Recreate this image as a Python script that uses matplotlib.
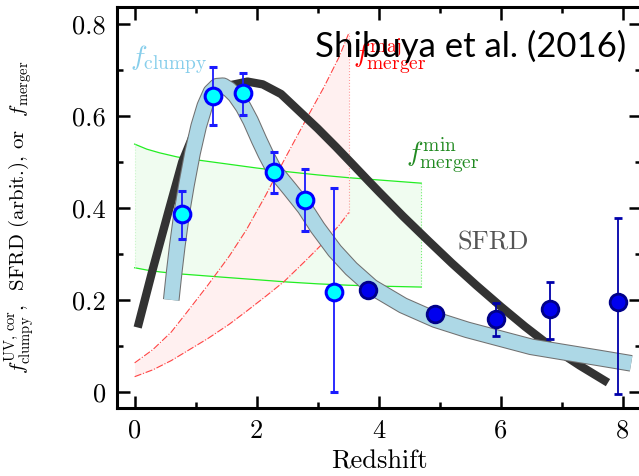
import numpy as np
import matplotlib
matplotlib.use("Agg")
import matplotlib.pyplot as plt
import matplotlib.patheffects as pe
from matplotlib.ticker import MultipleLocator, FuncFormatter

plt.rcParams['font.family'] = 'cmr10'
plt.rcParams['mathtext.fontset'] = 'cm'
plt.rcParams['axes.unicode_minus'] = False

# f_clumpy data (this work)
z_cyan = [0.77, 1.29, 1.78, 2.29, 2.79, 3.27]
f_cyan = [0.387, 0.643, 0.650, 0.478, 0.417, 0.217]
err_cyan_lo = [0.054, 0.063, 0.048, 0.046, 0.067, 0.217]
err_cyan_hi = [0.050, 0.064, 0.044, 0.044, 0.068, 0.227]

z_blue = [3.82, 4.92, 5.92, 6.81, 7.93]
f_blue = [0.222, 0.170, 0.159, 0.180, 0.196]
err_blue_lo = [0.0, 0.0, 0.037, 0.065, 0.200]
err_blue_hi = [0.0, 0.0, 0.034, 0.059, 0.182]

# fitted f_clumpy band
z_fit = [0.60, 0.65, 0.70, 0.77, 0.85, 0.95, 1.05, 1.15, 1.25, 1.35, 1.45, 1.55, 1.65, 1.78,
         1.90, 2.04, 2.15, 2.29, 2.55, 2.79, 3.00, 3.28, 3.55, 3.89, 4.40, 4.93, 5.45, 5.96,
         6.50, 7.00, 7.60, 8.14]
f_fit = [0.200, 0.262, 0.318, 0.387, 0.450, 0.520, 0.578, 0.622, 0.652, 0.665, 0.666, 0.658,
         0.645, 0.620, 0.590, 0.548, 0.517, 0.482, 0.440, 0.400, 0.357, 0.307, 0.268, 0.228,
         0.188, 0.157, 0.135, 0.117, 0.098, 0.087, 0.074, 0.062]

# SFRD (arbitrary)
z_sfrd = [0.05, 0.30, 0.55, 0.78, 1.00, 1.20, 1.40, 1.60, 1.85, 2.10, 2.40, 2.80, 3.00, 3.30,
          3.56, 3.84, 4.00, 4.40, 4.82, 5.20, 5.60, 6.00, 6.40, 6.83, 7.30, 7.76]
sfrd = [0.140, 0.268, 0.390, 0.500, 0.572, 0.622, 0.653, 0.668, 0.675, 0.669, 0.648, 0.598,
        0.573, 0.533, 0.497, 0.458, 0.436, 0.382, 0.328, 0.280, 0.232, 0.186, 0.142, 0.098,
        0.057, 0.020]

# major merger fraction range
z_maj = [0.0, 0.30, 0.60, 0.85, 1.20, 1.55, 1.83, 2.15, 2.45, 2.80, 3.10, 3.35, 3.51]
maj_hi = [0.063, 0.092, 0.130, 0.172, 0.232, 0.295, 0.352, 0.428, 0.504, 0.590, 0.662, 0.728, 0.780]
maj_lo = [0.033, 0.048, 0.068, 0.088, 0.116, 0.147, 0.175, 0.208, 0.240, 0.285, 0.325, 0.362, 0.390]

# minor merger fraction range
z_min = [0.0, 0.20, 0.41, 0.70, 1.00, 1.39, 2.00, 2.50, 3.00, 3.50, 4.00, 4.70]
min_hi = [0.539, 0.528, 0.520, 0.511, 0.505, 0.498, 0.487, 0.479, 0.472, 0.466, 0.461, 0.454]
min_lo = [0.270, 0.265, 0.261, 0.257, 0.254, 0.250, 0.244, 0.239, 0.235, 0.232, 0.230, 0.228]

fig = plt.figure(figsize=(6.39, 4.76), dpi=100)
ax = fig.add_axes([0.183, 0.143, 0.82, 0.842])

# merger shaded regions
ax.fill_between(z_min, min_lo, min_hi, color='#f0fcf0', lw=0, zorder=1)
ax.plot(z_min, min_hi, color='#22ee22', lw=0.9, zorder=2)
ax.plot(z_min, min_lo, color='#22ee22', lw=0.9, zorder=2)
ax.plot([z_min[-1], z_min[-1]], [min_lo[-1], min_hi[-1]], color='#77ee77', lw=0.8, ls=':', zorder=2)
ax.plot([z_min[0], z_min[0]], [min_lo[0], min_hi[0]], color='#ccf5cc', lw=0.8, ls=':', zorder=2)

ax.fill_between(z_maj, maj_lo, maj_hi, color='#fff0f0', lw=0, zorder=1)
ax.plot(z_maj, maj_hi, color='#ff4444', lw=0.8, ls='-.', zorder=2)
ax.plot(z_maj, maj_lo, color='#ff4444', lw=0.8, ls='-.', zorder=2)
ax.plot([z_maj[-1], z_maj[-1]], [maj_lo[-1], maj_hi[-1]], color='#ff9999', lw=0.8, ls=':', zorder=2)

# SFRD
ax.plot(z_sfrd, sfrd, color='#333333', lw=6, solid_capstyle='butt', solid_joinstyle='round', zorder=3)

# f_clumpy band
ax.plot(z_fit, f_fit, color='#add8e6', lw=10.5, solid_capstyle='butt', solid_joinstyle='round', zorder=4,
        path_effects=[pe.Stroke(linewidth=12, foreground='#707070'), pe.Normal()])

# data points
ax.errorbar(z_cyan, f_cyan, yerr=[err_cyan_lo, err_cyan_hi], fmt='o', ms=12,
            mfc='#00ffff', mec='#0000ff', mew=2.2, ecolor='#1a1aff', elinewidth=1.3,
            capsize=3, capthick=1.3, zorder=6)
ax.errorbar(z_blue, f_blue, yerr=[err_blue_lo, err_blue_hi], fmt='o', ms=12,
            mfc='#0000ee', mec='#000088', mew=2, ecolor='#0000aa', elinewidth=1.3,
            capsize=3, capthick=1.3, zorder=6)

# labels inside plot
ax.text(-0.08, 0.71, r'$f_{\rm clumpy}$', color='#87ceeb', fontsize=20, zorder=7)
ax.text(3.58, 0.715, r'$f^{\rm maj}_{\rm merger}$', color='#ff0000', fontsize=20, zorder=7)
ax.text(4.45, 0.5, r'$f^{\rm min}_{\rm merger}$', color='#228b22', fontsize=20, zorder=7)
ax.text(5.3, 0.31, 'SFRD', color='#555555', fontsize=19, zorder=7)
ax.text(8.06, 0.728, 'Shibuya et al. (2016)', color='black', fontsize=25,
        family='Lato', ha='right', zorder=8)

ax.set_xlim(-0.29, 8.3)
ax.set_ylim(-0.035, 0.837)
ax.xaxis.set_major_locator(MultipleLocator(2))
ax.xaxis.set_minor_locator(MultipleLocator(1))
ax.yaxis.set_major_locator(MultipleLocator(0.2))
ax.yaxis.set_minor_locator(MultipleLocator(0.1))
ax.xaxis.set_major_formatter(FuncFormatter(lambda v, p: '%g' % v))
ax.yaxis.set_major_formatter(FuncFormatter(lambda v, p: '%g' % v))
ax.tick_params(which='both', direction='in', top=True, right=True, labelsize=19, width=1.8)
ax.tick_params(which='major', length=9, pad=8)
ax.tick_params(which='minor', length=4)
for s in ax.spines.values():
    s.set_linewidth(2.2)

ax.set_xlabel('Redshift', fontsize=19, labelpad=5)
ax.set_ylabel(r'$f^{\rm UV,\,cor}_{\rm clumpy}$,  SFRD (arbit.), or  $f_{\rm merger}$', fontsize=15)
ax.yaxis.set_label_coords(-0.153, 0.476)

fig.savefig('out.png', dpi=100)
